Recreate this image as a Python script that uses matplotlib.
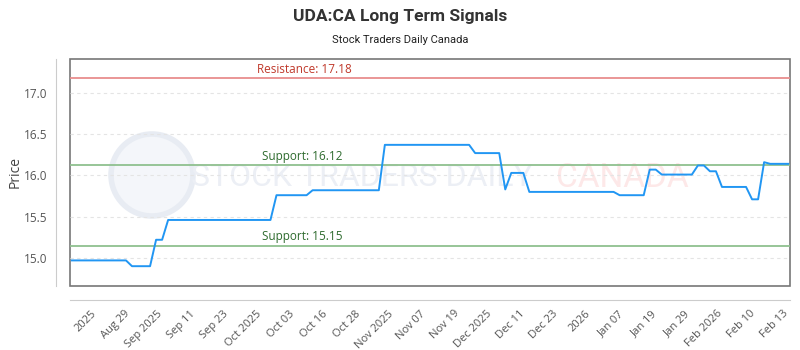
import numpy as np
import matplotlib.pyplot as plt
from matplotlib.patches import Rectangle, Ellipse

# daily closing prices (trading-day index)
prices = [14.97, 14.97, 14.97, 14.97, 14.97, 14.97, 14.97, 14.97, 14.97, 14.97,
          14.90, 14.90, 14.90, 14.90,
          15.22, 15.22,
          15.46, 15.46, 15.46, 15.46, 15.46, 15.46, 15.46, 15.46, 15.46,
          15.46, 15.46, 15.46, 15.46, 15.46, 15.46, 15.46, 15.46, 15.46,
          15.76, 15.76, 15.76, 15.76, 15.76, 15.76,
          15.82, 15.82, 15.82, 15.82, 15.82, 15.82, 15.82, 15.82, 15.82, 15.82, 15.82, 15.82,
          16.37, 16.37, 16.37, 16.37, 16.37, 16.37, 16.37, 16.37, 16.37, 16.37,
          16.37, 16.37, 16.37, 16.37, 16.37,
          16.27, 16.27, 16.27, 16.27, 16.27,
          15.83,
          16.03, 16.03, 16.03,
          15.80, 15.80, 15.80, 15.80, 15.80, 15.80, 15.80, 15.80, 15.80, 15.80,
          15.80, 15.80, 15.80, 15.80, 15.80,
          15.76, 15.76, 15.76, 15.76, 15.76,
          16.07, 16.07,
          16.01, 16.01, 16.01, 16.01, 16.01, 16.01,
          16.12, 16.12,
          16.05, 16.05,
          15.86, 15.86, 15.86, 15.86, 15.86,
          15.71, 15.71,
          16.16,
          16.14, 16.14, 16.14, 16.14]

tick_labels = ['2025', 'Aug 29', 'Sep 2025', 'Sep 11', 'Sep 23', 'Oct 2025', 'Oct 03',
               'Oct 16', 'Oct 28', 'Nov 2025', 'Nov 07', 'Nov 19', 'Dec 2025', 'Dec 11',
               'Dec 23', '2026', 'Jan 07', 'Jan 19', 'Jan 29', 'Feb 2026', 'Feb 10', 'Feb 13']

resistance = 17.18
supports = [16.12, 15.15]

plt.rcParams['font.family'] = ['Open Sans', 'DejaVu Sans']

fig = plt.figure(figsize=(8, 3.5), dpi=100)
ax = fig.add_axes([70/800, 1-286/350, 720/800, 227/350])

x = np.arange(len(prices))
ax.set_xlim(-0.3, len(prices) - 0.7)
ax.set_ylim(14.66, 17.41)

# faint watermark, kept behind the axes
fig.patches.append(Ellipse((152/800, 1-175/350), 82/800, 82/350, transform=fig.transFigure,
                           facecolor='#f4f6fa', edgecolor='#e8ecf3', lw=4, zorder=-2))
fig.text(362/800, 1-178/350, 'STOCK TRADERS DAILY', fontsize=23, color='#eceff5',
         ha='center', va='center', family='Roboto', zorder=-1)
fig.text(622/800, 1-178/350, 'CANADA', fontsize=24, color='#fde8e8',
         ha='center', va='center', family='Roboto', zorder=-1)

ax.set_facecolor('none')
ax.set_yticks([15.0, 15.5, 16.0, 16.5, 17.0])
ax.grid(axis='y', color='#e4e4e4', linestyle=(0, (3, 3)), lw=0.8)

ax.axhline(resistance, color='#e88e8e', lw=1.3)
ax.text(0.325, resistance + 0.03, f'Resistance: {resistance}', transform=ax.get_yaxis_transform(),
        ha='center', va='bottom', color='#c0392b', fontsize=8.5)
for s in supports:
    ax.axhline(s, color='#8fc08f', lw=1.3)
    ax.text(0.322, s + 0.03, f'Support: {s}', transform=ax.get_yaxis_transform(),
            ha='center', va='bottom', color='#2e6b2e', fontsize=8.5)

ax.plot(x, prices, color='#2196f3', lw=1.4)

# framed plot area plus offset axis lines
ax.add_patch(Rectangle((0, 0), 1, 1, transform=ax.transAxes, fill=False,
                       edgecolor='#777777', lw=1.2, clip_on=False))
for side in ['top', 'right']:
    ax.spines[side].set_visible(False)
for side in ['left', 'bottom']:
    ax.spines[side].set_position(('outward', 10))
    ax.spines[side].set_color('#cccccc')

tick_pos = np.linspace(3.2, 118.1, len(tick_labels))
ax.set_xticks(tick_pos)
ax.set_xticklabels(tick_labels, rotation=45, ha='right', rotation_mode='anchor')
ax.tick_params(axis='x', length=0, labelsize=8, colors='#555555', pad=6)
ax.tick_params(axis='y', length=0, labelsize=8.5, colors='#555555', pad=6)

ax.set_ylabel('Price', fontsize=10, color='#444444')
ax.yaxis.set_label_coords(-0.066, 0.5)

fig.text(0.5, 1-16/350, 'UDA:CA Long Term Signals', ha='center', va='center',
         fontsize=12.5, fontweight='bold', color='#333333', family='Roboto')
fig.text(0.5, 1-40/350, 'Stock Traders Daily Canada', ha='center', va='center',
         fontsize=8, color='#222222', family='Roboto')

fig.savefig('out.png', dpi=100)
